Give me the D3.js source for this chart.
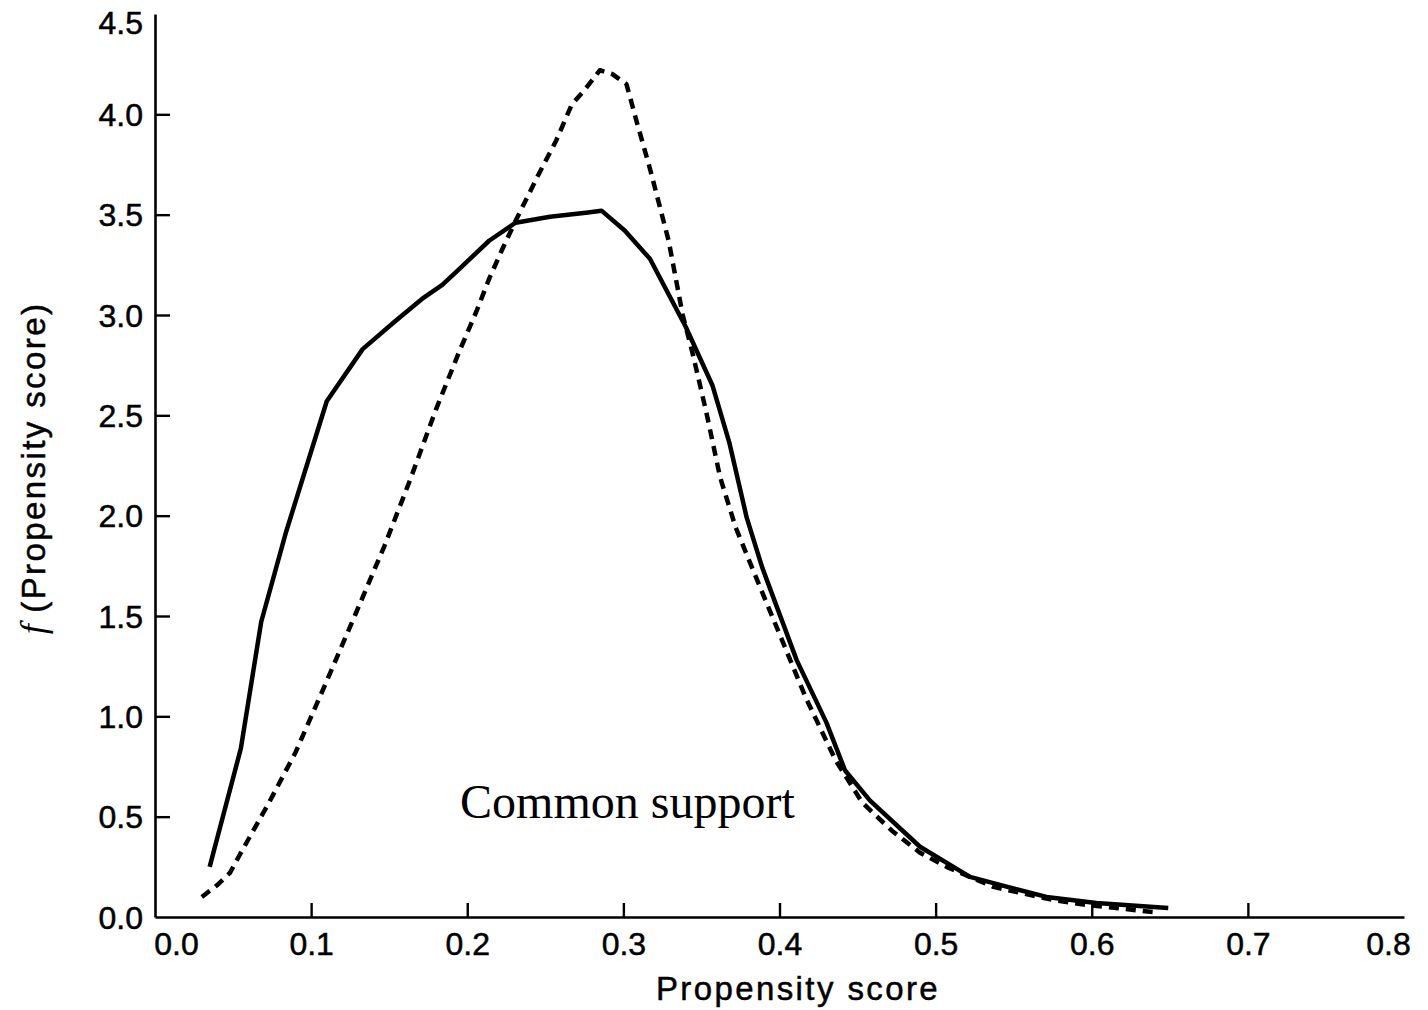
<!DOCTYPE html>
<html>
<head>
<meta charset="utf-8">
<script src="https://cdn.jsdelivr.net/npm/d3@7"></script>
<style>
  html, body { margin: 0; padding: 0; background: #fff; }
  svg { display: block; }
  .tick-label { font-family: "Liberation Sans", Arial, Helvetica, sans-serif; font-size: 32px; fill: #000; stroke: #000; stroke-width: 0.5px; }
  .sans-title { stroke: #000; stroke-width: 0.5px; }
</style>
</head>
<body>
<svg id="chart" width="1428" height="1010"></svg>
<script>
// ---- data ----
const xTicks = [0.0, 0.1, 0.2, 0.3, 0.4, 0.5, 0.6, 0.7, 0.8];
const yTicks = [0.0, 0.5, 1.0, 1.5, 2.0, 2.5, 3.0, 3.5, 4.0, 4.5];
const xTickLabels = ["0.0", "0.1", "0.2", "0.3", "0.4", "0.5", "0.6", "0.7", "0.8"];
const yTickLabels = ["0.0", "0.5", "1.0", "1.5", "2.0", "2.5", "3.0", "3.5", "4.0", "4.5"];

// solid curve
const solidX = [0.035, 0.055, 0.068, 0.084, 0.110, 0.133, 0.154, 0.171, 0.184, 0.195, 0.214, 0.231, 0.253, 0.276, 0.286,
                0.301, 0.317, 0.340, 0.357, 0.368, 0.379, 0.389, 0.411, 0.430, 0.442, 0.458, 0.490, 0.522, 0.546, 0.571, 0.603, 0.649];
const solidY = [0.25, 0.84, 1.47, 1.92, 2.57, 2.83, 2.97, 3.08, 3.15, 3.23, 3.37, 3.46, 3.49, 3.51, 3.52,
                3.42, 3.28, 2.94, 2.65, 2.36, 1.99, 1.74, 1.28, 0.97, 0.73, 0.58, 0.35, 0.20, 0.15, 0.10, 0.07, 0.045];

// dashed curve
const dashedX = [0.030, 0.040, 0.048, 0.055, 0.073, 0.090, 0.108, 0.129, 0.147, 0.163, 0.180, 0.195, 0.206, 0.214, 0.222, 0.231,
                 0.245, 0.257, 0.267, 0.275, 0.285, 0.293, 0.302, 0.309, 0.317, 0.323, 0.329, 0.338, 0.344, 0.353, 0.362,
                 0.372, 0.383, 0.400, 0.417, 0.436, 0.453, 0.472, 0.490, 0.507, 0.537, 0.575, 0.597, 0.639];
const dashedY = [0.10, 0.16, 0.22, 0.32, 0.57, 0.82, 1.14, 1.52, 1.85, 2.17, 2.53, 2.82, 3.02, 3.18, 3.32, 3.47,
                 3.69, 3.87, 4.05, 4.12, 4.22, 4.20, 4.15, 3.95, 3.73, 3.55, 3.37, 3.00, 2.82, 2.52, 2.19,
                 1.94, 1.73, 1.41, 1.09, 0.78, 0.57, 0.43, 0.32, 0.25, 0.15, 0.085, 0.06, 0.025];

const xTitle = "Propensity score";
const yTitleItalic = "f";
const yTitleRest = " (Propensity score)";
const annotation = "Common support";
const annotationX = 0.3;
const annotationY = 0.5;

// ---- layout ----
const svg = d3.select("#chart");
const x = d3.scaleLinear().domain([0, 0.8]).range([155, 1404]);
const y = d3.scaleLinear().domain([0, 4.5]).range([917, 14]);
const x0 = x(0), y0 = y(0);

// x axis
const xAxis = d3.axisBottom(x).tickValues(xTicks).tickSize(0).tickFormat((d, i) => xTickLabels[i]);
const gx = svg.append("g").attr("transform", `translate(0,${y0})`).call(xAxis);
gx.select(".domain").attr("stroke", "#000").attr("stroke-width", 2.6);
gx.selectAll(".tick text").attr("class", "tick-label").attr("font-size", null).attr("font-family", null)
  .attr("y", 38).attr("dy", null)
  .attr("dx", (d, i) => i === 0 ? 21 : (i === xTicks.length - 1 ? -16 : 0));
gx.selectAll(".tick").filter(d => d > 0 && d < 0.8).append("line")
  .attr("y1", 0).attr("y2", -14).attr("stroke", "#000").attr("stroke-width", 2.4);

// y axis
const yAxis = d3.axisLeft(y).tickValues(yTicks).tickSize(0).tickFormat((d, i) => yTickLabels[i]);
const gy = svg.append("g").attr("transform", `translate(${x0},0)`).call(yAxis);
gy.select(".domain").attr("stroke", "#000").attr("stroke-width", 2.6);
gy.selectAll(".tick text").attr("class", "tick-label").attr("font-size", null).attr("font-family", null)
  .attr("x", -12).attr("dy", (d) => d === 4.5 ? "0.6em" : "0.35em");
gy.selectAll(".tick").filter(d => d > 0 && d < 4.5).append("line")
  .attr("x1", 0).attr("x2", 15).attr("stroke", "#000").attr("stroke-width", 2.4);

// curves
const line = d3.line().x(d => x(d[0])).y(d => y(d[1]));
const solidData = solidX.map((v, i) => [v, solidY[i]]);
const dashedData = dashedX.map((v, i) => [v, dashedY[i]]);

svg.append("path").datum(dashedData).attr("d", line)
  .attr("fill", "none").attr("stroke", "#000").attr("stroke-width", 4.5)
  .attr("stroke-dasharray", "10,7").attr("stroke-linejoin", "round");
svg.append("path").datum(solidData).attr("d", line)
  .attr("fill", "none").attr("stroke", "#000").attr("stroke-width", 4.5)
  .attr("stroke-linejoin", "round");

// annotation
svg.append("text").attr("x", x(annotationX) + 4).attr("y", y(annotationY) + 1)
  .attr("text-anchor", "middle")
  .attr("font-family", "'Liberation Serif', 'Times New Roman', serif")
  .attr("font-size", 48).attr("fill", "#000").text(annotation);

// x title
svg.append("text").attr("class", "sans-title").attr("x", 798).attr("y", 1000).attr("text-anchor", "middle")
  .attr("font-family", "'Liberation Sans', Arial, sans-serif").attr("font-size", 33)
  .attr("letter-spacing", "2.4px").attr("fill", "#000").text(xTitle);

// y title
const yt = svg.append("text").attr("transform", "translate(45,468) rotate(-90)")
  .attr("text-anchor", "middle").attr("fill", "#000");
yt.append("tspan").attr("font-family", "'Liberation Serif', 'Times New Roman', serif")
  .attr("font-style", "italic").attr("font-size", 36).text(yTitleItalic);
yt.append("tspan").attr("class", "sans-title").attr("font-family", "'Liberation Sans', Arial, sans-serif")
  .attr("font-size", 33).attr("letter-spacing", "2.4px").text(yTitleRest);
</script>
</body>
</html>
